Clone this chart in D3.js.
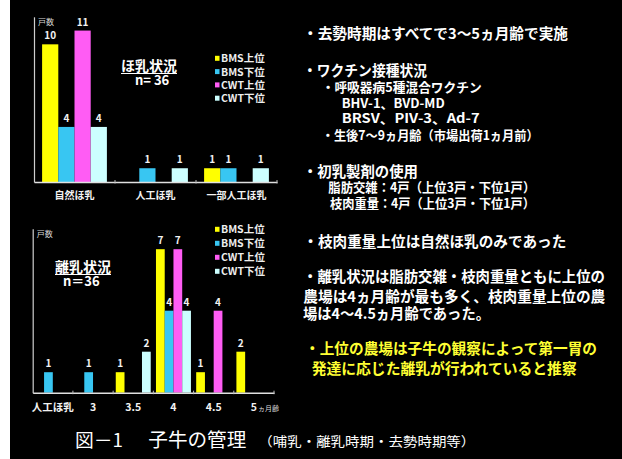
<!DOCTYPE html>
<html>
<head>
<meta charset="utf-8">
<script src="https://cdn.jsdelivr.net/npm/d3@7"></script>
<style>
  html, body { margin: 0; padding: 0; background: #fff; }
  svg { display: block; }
  text { font-family: "Noto Sans CJK JP", "Noto Sans", sans-serif; }
</style>
</head>
<body>
<svg id="chart" width="622" height="459"></svg>
<script>
// ---- data ----
const seriesNames = ["BMS上位", "BMS下位", "CWT上位", "CWT下位"];
const seriesColors = ["#ffff00", "#38c6f2", "#ff5cf4", "#ccffff"];

// 哺乳状況 (number of farms)
const nursingCategories = ["自然ほ乳", "人工ほ乳", "一部人工ほ乳"];
const nursingBmsHigh = [10, 0, 1];
const nursingBmsLow  = [4, 1, 1];
const nursingCwtHigh = [11, 0, 0];
const nursingCwtLow  = [4, 1, 1];

// 離乳状況 (number of farms by weaning age)
const weaningCategories = ["人工ほ乳", "3", "3.5", "4", "4.5", "5"];
const weaningBmsHigh = [0, 0, 1, 7, 1, 2];
const weaningBmsLow  = [1, 1, 0, 4, 0, 0];
const weaningCwtHigh = [0, 0, 0, 7, 4, 0];
const weaningCwtLow  = [0, 0, 2, 4, 0, 0];
const weaningUnit = "ヵ月齢";

const yAxisLabel = "戸数";
const nursingTitle = "ほ乳状況";
const weaningTitle = "離乳状況";
const sampleSize = "n= 36";
const sampleSize2 = "n＝36";

const noteLines = [
  "・去勢時期はすべてで3～5ヵ月齢で実施",
  "・ワクチン接種状況",
  "・呼吸器病5種混合ワクチン",
  "BHV-1、BVD-MD",
  "BRSV、PIV-3、Ad-7",
  "・生後7～9ヵ月齢（市場出荷1ヵ月前）",
  "・初乳製剤の使用",
  "脂肪交雑：4戸（上位3戸・下位1戸）",
  "枝肉重量：4戸（上位3戸・下位1戸）",
  "・枝肉重量上位は自然ほ乳のみであった",
  "・離乳状況は脂肪交雑・枝肉重量ともに上位の",
  "農場は4ヵ月齢が最も多く、枝肉重量上位の農",
  "場は4～4.5ヵ月齢であった。",
  "・上位の農場は子牛の観察によって第一胃の",
  "発達に応じた離乳が行われていると推察"
];
const captionMain = ["図－1", "子牛の管理"];
const captionSub = "（哺乳・離乳時期・去勢時期等）";

// ---- drawing ----
const svg = d3.select("#chart");
svg.append("rect").attr("x", 10).attr("y", 0).attr("width", 612).attr("height", 459).attr("fill", "#000");

function drawPanel(opt) {
  const g = svg.append("g");
  const values = opt.series; // array of arrays, one per series
  const rows = opt.categories.map((c, i) => ({
    cat: c,
    vals: seriesNames.map((s, k) => ({ s, k, v: values[k][i] }))
  }));

  const x0 = d3.scaleBand().domain(opt.categories).range(opt.xRange)
    .paddingInner(opt.padInner).paddingOuter(opt.padOuter);
  const x1 = d3.scaleBand().domain(seriesNames)
    .range([0, x0.bandwidth()]).paddingOuter(opt.subPadOuter).paddingInner(0);
  const y = d3.scaleLinear().domain([0, opt.yMax]).range([opt.baseline, opt.yTop]);

  // y axis: plain vertical line
  const yAx = g.append("g").attr("transform", `translate(${opt.xRange[0]},0)`)
    .call(d3.axisLeft(y).tickValues([]).tickSizeOuter(0));
  yAx.select(".domain").attr("stroke", "#cfcfcf").attr("stroke-width", 1.2);

  g.append("text").attr("x", opt.xRange[0] + 4).attr("y", opt.yTop + 8)
    .attr("fill", "#d8d8d8").attr("font-size", 8).text(yAxisLabel);

  // bars
  const grp = g.selectAll(".grp").data(rows).join("g")
    .attr("transform", d => `translate(${x0(d.cat)},0)`);
  const bars = grp.selectAll("g.bar").data(d => d.vals.filter(e => e.v > 0)).join("g").attr("class", "bar");
  bars.append("rect")
    .attr("x", d => x1(d.s)).attr("width", x1.bandwidth())
    .attr("y", d => y(d.v)).attr("height", d => y(0) - y(d.v))
    .attr("fill", d => seriesColors[d.k]);
  bars.append("text")
    .attr("x", d => x1(d.s) + x1.bandwidth() / 2).attr("y", d => y(d.v) - 5)
    .attr("text-anchor", "middle").attr("fill", "#f2f2f2")
    .attr("font-size", opt.valueSize).attr("font-weight", "bold").text(d => d.v);

  // x axis
  const xAx = g.append("g").attr("transform", `translate(0,${opt.baseline})`)
    .call(d3.axisBottom(x0).tickSize(0).tickSizeOuter(0).tickPadding(opt.labelPad));
  xAx.select(".domain").attr("stroke", "#e0e0e0").attr("stroke-width", 1.5);
  xAx.selectAll("text").attr("fill", "#f2f2f2").attr("font-size", opt.labelSize)
    .attr("font-weight", "bold").style("font-family", '"Noto Sans CJK JP", sans-serif');
  // small boundary ticks between groups
  const bounds = opt.boundaries(x0);
  g.selectAll(".btick").data(bounds).join("line")
    .attr("x1", d => d).attr("x2", d => d)
    .attr("y1", opt.baseline - 2).attr("y2", opt.baseline + 1.5)
    .attr("stroke", "#bbb").attr("stroke-width", 1);

  // title with underline
  const t = g.append("text").attr("x", opt.titleX).attr("y", opt.titleY)
    .attr("fill", "#fff").attr("font-size", 14).attr("font-weight", "bold").text(opt.title);
  const tw = t.node().getComputedTextLength();
  g.append("line").attr("x1", opt.titleX).attr("x2", opt.titleX + tw)
    .attr("y1", opt.titleY + 2.5).attr("y2", opt.titleY + 2.5).attr("stroke", "#fff").attr("stroke-width", 1.2);
  g.append("text").attr("x", opt.nX).attr("y", opt.titleY + 14)
    .attr("fill", "#fff").attr("font-size", 13).attr("font-weight", "bold").text(opt.n);

  // legend
  const lg = g.selectAll(".lg").data(seriesNames).join("g")
    .attr("transform", (d, i) => `translate(${opt.legendX},${opt.legendY + i * opt.legendStep})`);
  lg.append("rect").attr("x", 0).attr("y", -2.5).attr("width", 4.5).attr("height", 5)
    .attr("fill", (d, i) => seriesColors[i]);
  lg.append("text").attr("x", 6).attr("y", 4).attr("fill", "#eee")
    .attr("font-size", 10.5).attr("font-weight", "bold").text(d => d);

  return { g, x0 };
}

drawPanel({
  categories: nursingCategories,
  series: [nursingBmsHigh, nursingBmsLow, nursingCwtHigh, nursingCwtLow],
  xRange: [34, 277], padInner: 0.2, padOuter: 0.1, subPadOuter: 0,
  yMax: 12, baseline: 182, yTop: 16.8,
  valueSize: 10, labelSize: 10, labelPad: 10,
  boundaries: x0 => nursingCategories.slice(1).map(c => x0(c) - x0.step() * 0.1).concat([277]),
  title: nursingTitle, titleX: 121, titleY: 71, nX: 135, n: sampleSize,
  legendX: 215, legendY: 58.3, legendStep: 13.3
});

const w = drawPanel({
  categories: weaningCategories,
  series: [weaningBmsHigh, weaningBmsLow, weaningCwtHigh, weaningCwtLow],
  xRange: [32.7, 274], padInner: 0, padOuter: 0, subPadOuter: 0.3,
  yMax: 8, baseline: 392.7, yTop: 228.7,
  valueSize: 10, labelSize: 10.5, labelPad: 11,
  boundaries: x0 => weaningCategories.slice(1).map(c => x0(c)).concat([274]),
  title: weaningTitle, titleX: 55, titleY: 272, nX: 63, n: sampleSize2,
  legendX: 215, legendY: 229.3, legendStep: 14
});
// unit after the last age label
w.g.append("text")
  .attr("x", w.x0(weaningCategories[weaningCategories.length - 1]) + w.x0.bandwidth() / 2 + 4)
  .attr("y", 411).attr("fill", "#ddd").attr("font-size", 7).text(weaningUnit);

// ---- notes on the right ----
const noteLayout = [
  [303, 265, 33.3, 14.5, "#fff"],
  [303, 124, 70, 14.5, "#fff"],
  [321.7, 160, 86.7, 13, "#fff"],
  [341.7, 103, 103.3, 13, "#fff"],
  [341.7, 138, 118.3, 13, "#fff"],
  [321.7, 217, 135, 13, "#fff"],
  [303, 115, 171.7, 14.5, "#fff"],
  [328.3, 207, 186.7, 13, "#fff"],
  [330, 205, 202.7, 13, "#fff"],
  [303.3, 263, 241.7, 14.5, "#fff"],
  [303, 302, 276.7, 14.5, "#fff"],
  [303.3, 302, 296, 14.5, "#fff"],
  [303, 187, 313.3, 14.5, "#fff"],
  [305, 292, 348.3, 14.5, "#ffff33"],
  [311.7, 265, 368.3, 14.5, "#ffff33"]
];
svg.append("g").selectAll("text").data(noteLines).join("text")
  .attr("x", (d, i) => noteLayout[i][0])
  .attr("y", (d, i) => noteLayout[i][2] + noteLayout[i][3] * 0.38)
  .attr("textLength", (d, i) => noteLayout[i][1])
  .attr("lengthAdjust", "spacingAndGlyphs")
  .attr("font-size", (d, i) => noteLayout[i][3])
  .attr("font-weight", "bold")
  .attr("fill", (d, i) => noteLayout[i][4])
  .text(d => d);

// ---- caption ----
svg.append("text").attr("x", 75).attr("y", 447).attr("fill", "#fff")
  .attr("font-size", 18).attr("textLength", 48).attr("lengthAdjust", "spacingAndGlyphs").text(captionMain[0]);
svg.append("text").attr("x", 148.3).attr("y", 447).attr("fill", "#fff")
  .attr("font-size", 19).attr("textLength", 98).attr("lengthAdjust", "spacingAndGlyphs").text(captionMain[1]);
svg.append("text").attr("x", 258.3).attr("y", 446).attr("fill", "#fff")
  .attr("font-size", 13).attr("textLength", 217).attr("lengthAdjust", "spacingAndGlyphs").text(captionSub);
</script>
</body>
</html>
